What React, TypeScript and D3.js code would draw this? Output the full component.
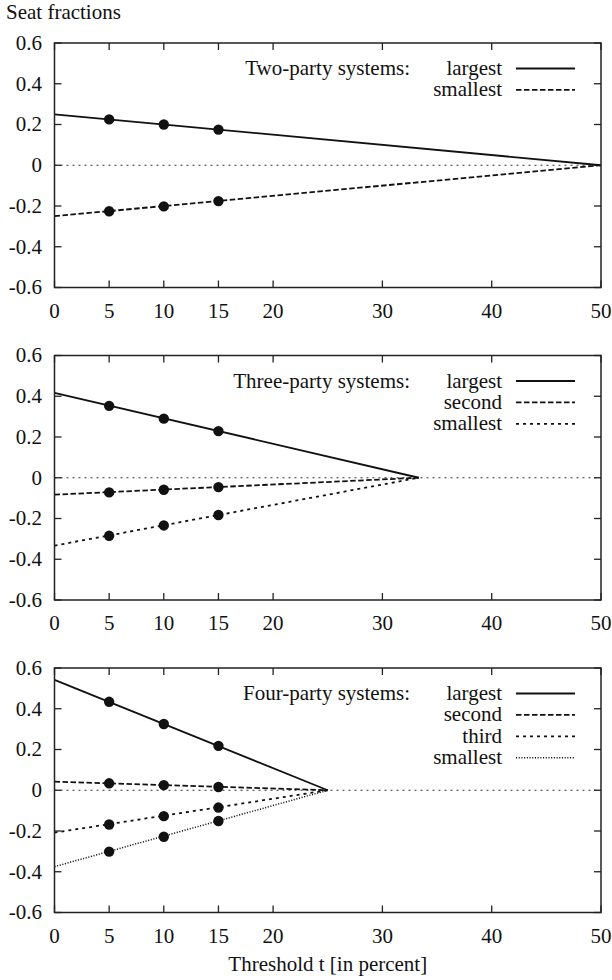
import { useEffect, useRef } from "react";
import * as d3 from "d3";

// x positions of the measured points
const thresholds = [5, 10, 15];
const xTicks = [0, 5, 10, 15, 20, 30, 40, 50];
const yTicks = [-0.6, -0.4, -0.2, 0, 0.2, 0.4, 0.6];

const panelTitles = ["Two-party systems:", "Three-party systems:", "Four-party systems:"];
const seriesNames = [
  ["largest", "smallest"],
  ["largest", "second", "smallest"],
  ["largest", "second", "third", "smallest"],
];
// line styles per series (index into dash table below)
const seriesStyles = [
  [0, 1],
  [0, 1, 2],
  [0, 1, 2, 3],
];
// value of each line at t = 0; every line ends at 0 at the point in zeroAt
const lineStart = [
  [0.25, -0.25],
  [0.417, -0.083, -0.333],
  [0.542, 0.042, -0.208, -0.375],
];
const zeroAt = [50, 33.33, 25];
// measured points at t = 5, 10, 15
const pointValues = [
  [
    [0.225, 0.2, 0.175],
    [-0.226, -0.202, -0.176],
  ],
  [
    [0.353, 0.29, 0.229],
    [-0.072, -0.059, -0.046],
    [-0.285, -0.234, -0.183],
  ],
  [
    [0.434, 0.325, 0.218],
    [0.034, 0.025, 0.016],
    [-0.168, -0.127, -0.085],
    [-0.301, -0.228, -0.151],
  ],
];

const dashes = [null, "5.5,2.5", "3,4", "1.1,1.6"];
const widths = [1.8, 1.8, 1.8, 1.5];

export default function App() {
  const svgRef = useRef<SVGSVGElement>(null);

  useEffect(() => {
    const width = 612;
    const height = 980;
    const left = 54.5;
    const right = 601;
    const panelTops = [43, 355.5, 668];
    const panelH = 244.5;
    const font = '"Liberation Serif", "Times New Roman", Times, "DejaVu Serif", serif';

    const svg = d3.select(svgRef.current);
    svg.selectAll("*").remove();
    svg.attr("width", width).attr("height", height).style("background", "#fff");

    const x = d3.scaleLinear().domain([0, 50]).range([left, right]);

    const label = (sel: d3.Selection<any, any, any, any>) =>
      sel.attr("font-family", font).attr("font-size", 21).attr("fill", "#111");

    svg.append("text").attr("x", 6).attr("y", 18.5).call(label).text("Seat fractions");

    panelTops.forEach((top, p) => {
      const bottom = top + panelH;
      const y = d3.scaleLinear().domain([-0.6, 0.6]).range([bottom, top]);
      const g = svg.append("g");

      // zero reference line
      g.append("line")
        .attr("x1", x(0))
        .attr("x2", x(50))
        .attr("y1", y(0))
        .attr("y2", y(0))
        .attr("stroke", "#333")
        .attr("stroke-width", 1)
        .attr("stroke-dasharray", "2,4");

      // ticks on all four sides, pointing inward
      xTicks.forEach(t => {
        g.append("line").attr("x1", x(t)).attr("x2", x(t)).attr("y1", bottom).attr("y2", bottom - 7)
          .attr("stroke", "#222").attr("stroke-width", 1.3);
        g.append("line").attr("x1", x(t)).attr("x2", x(t)).attr("y1", top).attr("y2", top + 7)
          .attr("stroke", "#222").attr("stroke-width", 1.3);
        g.append("text")
          .attr("x", x(t))
          .attr("y", bottom + 30)
          .attr("text-anchor", "middle")
          .call(label)
          .text(t);
      });
      yTicks.forEach(v => {
        g.append("line").attr("x1", left).attr("x2", left + 7).attr("y1", y(v)).attr("y2", y(v))
          .attr("stroke", "#222").attr("stroke-width", 1.3);
        g.append("line").attr("x1", right).attr("x2", right - 7).attr("y1", y(v)).attr("y2", y(v))
          .attr("stroke", "#222").attr("stroke-width", 1.3);
        g.append("text")
          .attr("x", 42)
          .attr("y", y(v))
          .attr("dy", "0.33em")
          .attr("text-anchor", "end")
          .call(label)
          .text(v === 0 ? "0" : d3.format(".1f")(v).replace("−", "-"));
      });

      // series lines and points
      const line = d3.line<[number, number]>().x(d => x(d[0])).y(d => y(d[1]));
      lineStart[p].forEach((start, i) => {
        const s = seriesStyles[p][i];
        g.append("path")
          .attr("d", line([[0, start], [zeroAt[p], 0]]))
          .attr("fill", "none")
          .attr("stroke", "#111")
          .attr("stroke-width", widths[s])
          .attr("stroke-dasharray", dashes[s]);
        g.selectAll(null)
          .data(pointValues[p][i])
          .enter()
          .append("circle")
          .attr("cx", (_d, k) => x(thresholds[k]))
          .attr("cy", d => y(d))
          .attr("r", 5.2)
          .attr("fill", "#111");
      });

      // frame
      g.append("rect")
        .attr("x", left)
        .attr("y", top)
        .attr("width", right - left)
        .attr("height", panelH)
        .attr("fill", "none")
        .attr("stroke", "#222")
        .attr("stroke-width", 1.5);

      // legend
      g.append("text")
        .attr("x", 410)
        .attr("y", top + 32)
        .attr("text-anchor", "end")
        .call(label)
        .text(panelTitles[p]);
      seriesNames[p].forEach((name, i) => {
        const s = seriesStyles[p][i];
        const rowY = top + 32 + i * 21.4;
        g.append("text")
          .attr("x", 502)
          .attr("y", rowY)
          .attr("text-anchor", "end")
          .call(label)
          .text(name);
        g.append("line")
          .attr("x1", 516)
          .attr("x2", 575)
          .attr("y1", rowY - 6.5)
          .attr("y2", rowY - 6.5)
          .attr("stroke", "#111")
          .attr("stroke-width", widths[s])
          .attr("stroke-dasharray", dashes[s]);
      });
    });

    svg
      .append("text")
      .attr("x", (left + right) / 2)
      .attr("y", 971)
      .attr("text-anchor", "middle")
      .call(label)
      .text("Threshold t [in percent]");
  }, []);

  return (
    <div style={{ position: "absolute", left: 0, top: 0 }}>
      <svg ref={svgRef}></svg>
    </div>
  );
}
